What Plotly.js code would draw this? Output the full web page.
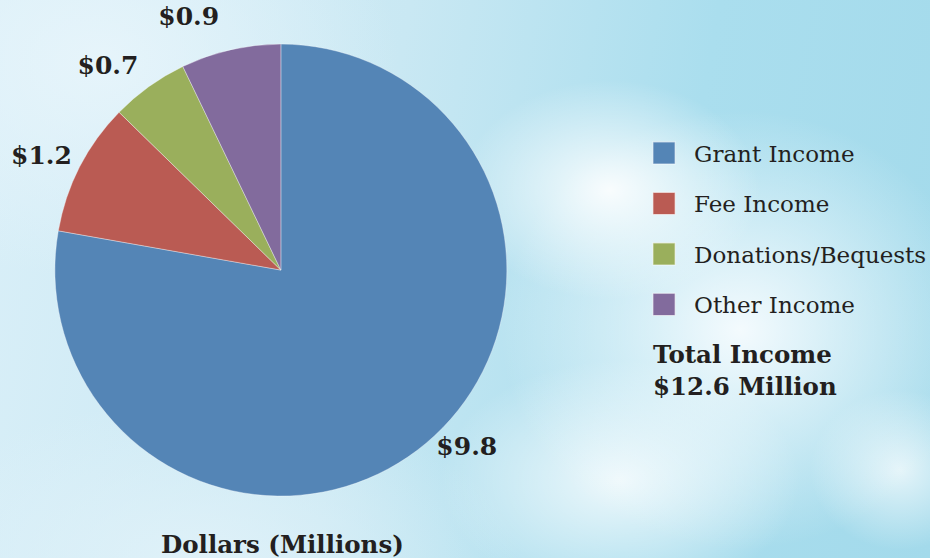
<!DOCTYPE html>
<html>
<head>
<meta charset="utf-8">
<script src="https://cdn.plot.ly/plotly-3.0.1.min.js"></script>
<style>
  html, body { margin: 0; padding: 0; }
  body {
    width: 930px; height: 558px; overflow: hidden;
    background:
      radial-gradient(ellipse 150px 110px at 610px 190px, rgba(255,255,255,0.9), rgba(255,255,255,0) 100%),
      radial-gradient(ellipse 240px 220px at 740px 330px, rgba(250,253,255,0.92), rgba(255,255,255,0) 100%),
      radial-gradient(ellipse 180px 120px at 620px 480px, rgba(255,255,255,0.8), rgba(255,255,255,0) 100%),
      radial-gradient(ellipse 90px 80px at 900px 470px, rgba(255,255,255,0.7), rgba(255,255,255,0) 100%),
      radial-gradient(ellipse 300px 220px at 100px 60px, rgba(232,245,251,0.9), rgba(232,245,251,0) 100%),
      radial-gradient(ellipse 320px 160px at 200px 560px, rgba(225,242,249,0.9), rgba(225,242,249,0) 100%),
      linear-gradient(100deg, #d9eff8 0%, #c9e8f3 40%, #aadeee 70%, #a3daeb 100%);
  }
  #chart { width: 930px; height: 558px; }
</style>
</head>
<body>
<div id="chart"></div>
<script>
const categories = ["Grant Income", "Fee Income", "Donations/Bequests", "Other Income"];
const amounts = [9.8, 1.2, 0.7, 0.9];
const sliceColors = ["#5485b6", "#ba5b53", "#9aaf5c", "#826b9d"];
const totalLabel = "Total Income<br>$12.6 Million";
const axisNote = "Dollars (Millions)";

const trace = {
  type: "pie",
  labels: categories,
  values: amounts,
  sort: false,
  direction: "clockwise",
  rotation: 0,
  marker: { colors: sliceColors, line: { color: "rgba(255,255,255,0.6)", width: 0.6 } },
  texttemplate: "$%{value:.1f}",
  textposition: "outside",
  textfont: { family: "DejaVu Serif", size: 25, color: "#231f20", weight: "bold" },
  hoverinfo: "label+value",
  domain: { x: [0.059, 0.545], y: [0.111, 0.921] }
};

const layout = {
  width: 930,
  height: 558,
  margin: { l: 0, r: 0, t: 0, b: 0 },
  paper_bgcolor: "rgba(0,0,0,0)",
  plot_bgcolor: "rgba(0,0,0,0)",
  showlegend: true,
  legend: {
    x: 0.6925, y: 0.76, xanchor: "left", yanchor: "top",
    bgcolor: "rgba(0,0,0,0)",
    font: { family: "DejaVu Serif", size: 23, color: "#231f20" }
  },
  annotations: [
    {
      text: totalLabel, showarrow: false, xref: "paper", yref: "paper",
      x: 0.7, y: 0.394, xanchor: "left", yanchor: "top", align: "left",
      font: { family: "DejaVu Serif", size: 24.5, color: "#231f20", weight: "bold" }
    },
    {
      text: axisNote, showarrow: false, xref: "paper", yref: "paper",
      x: 0.304, y: 0.025, xanchor: "center", yanchor: "middle",
      font: { family: "DejaVu Serif", size: 24.5, color: "#231f20", weight: "bold" }
    }
  ]
};

// spread the legend entries and enlarge swatches, push slice labels a bit outward
function tidy(gd) {
  const scroll = gd.querySelector(".legend .scrollbox");
  if (scroll) scroll.removeAttribute("clip-path");
  gd.querySelectorAll(".legend .traces").forEach((g, i) => {
    g.setAttribute("transform", `translate(0,${19 + i * 50.5})`);
    g.querySelectorAll(".legendpoints path").forEach(p => {
      p.setAttribute("transform", "translate(20,0) scale(1.85)");
    });
    const t = g.querySelector(".legendtext");
    if (t) t.setAttribute("x", 50);
  });

  const cd = gd.calcdata[0][0];
  const cx = cd.cx, cy = cd.cy, target = cd.r + 36;
  gd.querySelectorAll(".slicetext").forEach(txt => {
    const b = txt.getBBox();
    const mx = b.x + b.width / 2, my = b.y + b.height / 2;
    const dx = mx - cx, dy = my - cy;
    const d = Math.hypot(dx, dy);
    const k = Math.max(0, target - d) / d;
    const prev = txt.getAttribute("transform") || "";
    txt.setAttribute("transform", `translate(${dx * k},${dy * k - 4}) ` + prev);
  });
}

Plotly.newPlot("chart", [trace], layout, { displayModeBar: false, staticPlot: true })
  .then(gd => tidy(gd));
</script>
</body>
</html>
